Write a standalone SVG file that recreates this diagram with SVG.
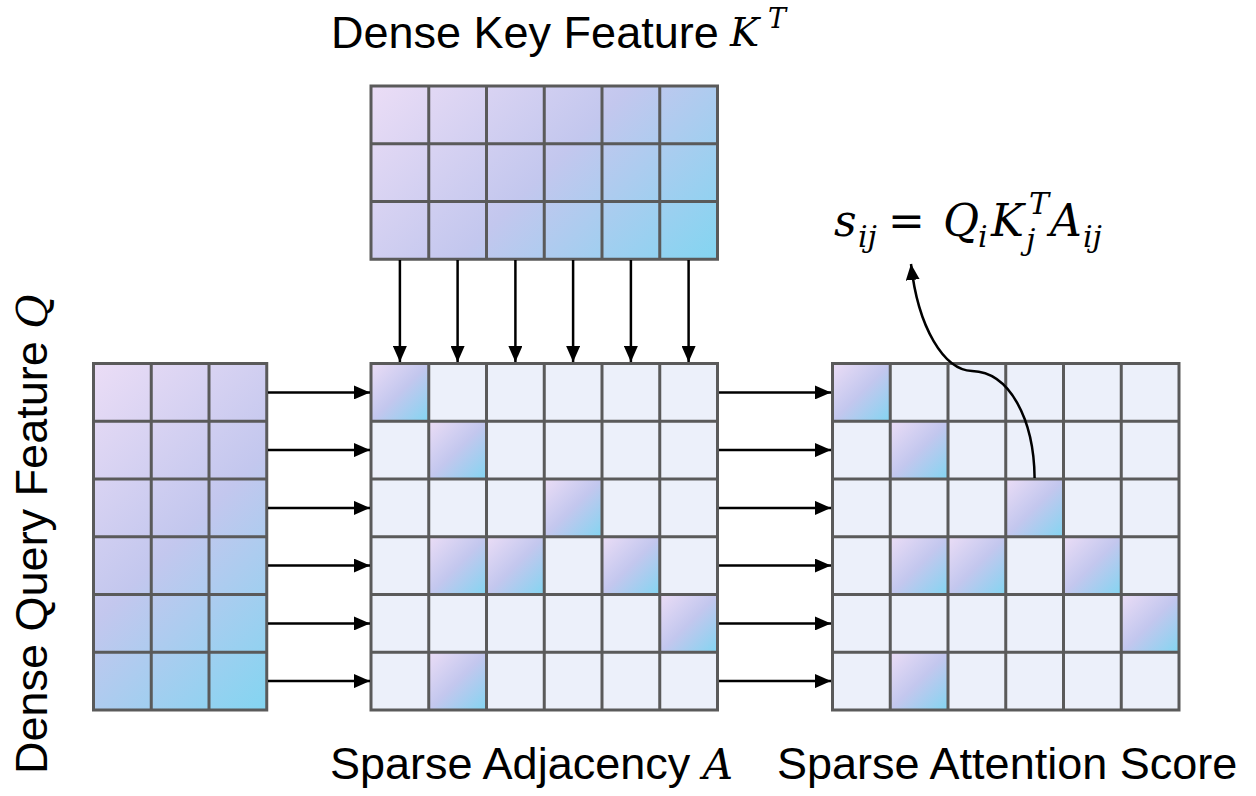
<svg xmlns="http://www.w3.org/2000/svg" width="1256" height="796" viewBox="0 0 1256 796">
  <style>
    .lbl { font-family: "Liberation Sans", Arial, sans-serif; font-size: 45px; fill: #000; }
    .math { font-family: "DejaVu Serif", "Liberation Serif", serif; font-style: italic; fill: #000; }
    .grid { fill: none; stroke: #5a5a5a; stroke-width: 3; }
    .empty { fill: #ECF0FA; }
    .hot { fill: url(#cg); }
    .arr { fill: none; stroke: #000; stroke-width: 2.5; marker-end: url(#ah); }
  </style>
  <defs>
    <linearGradient id="cg" x1="0" y1="0" x2="1" y2="1">
      <stop offset="0" stop-color="#EBDDF6"/>
      <stop offset="0.5" stop-color="#C3C7EE"/>
      <stop offset="1" stop-color="#83D5F1"/>
    </linearGradient>
    <linearGradient id="kg" href="#cg" gradientUnits="userSpaceOnUse" x1="371" y1="86" x2="630.9" y2="345.9"/>
    <linearGradient id="qg" href="#cg" gradientUnits="userSpaceOnUse" x1="93.5" y1="363.5" x2="353.4" y2="623.4"/>
    <marker id="ah" markerUnits="userSpaceOnUse" markerWidth="17" markerHeight="14" refX="16" refY="7" orient="auto">
      <path d="M0,0 L16,7 L0,14 z" fill="#000"/>
    </marker>
  </defs>
  <rect width="1256" height="796" fill="#fff"/>

  <!-- Top matrix: Dense Key Feature K^T -->
  <g id="key-matrix">
    <rect x="371" y="86" width="346.5" height="173.25" fill="url(#kg)"/>
    <path class="grid" d="M371,86 H717.5 V259.25 H371 Z M428.75,86 V259.25 M486.5,86 V259.25 M544.25,86 V259.25 M602,86 V259.25 M659.75,86 V259.25 M371,143.75 H717.5 M371,201.5 H717.5"/>
  </g>
  <g id="key-label">
    <text class="lbl" x="331" y="48">Dense Key Feature <tspan class="math" x="730" y="46" font-size="39">K</tspan><tspan class="math" x="768" y="28" font-size="27">T</tspan></text>
  </g>

  <!-- Left matrix: Dense Query Feature Q -->
  <g id="query-matrix">
    <rect x="93.5" y="363.5" width="173.25" height="346.5" fill="url(#qg)"/>
    <path class="grid" d="M93.5,363.5 H266.75 V710 H93.5 Z M151.25,363.5 V710 M209,363.5 V710 M93.5,421.25 H266.75 M93.5,479 H266.75 M93.5,536.75 H266.75 M93.5,594.5 H266.75 M93.5,652.25 H266.75"/>
  </g>
  <g id="query-label">
    <text class="lbl" transform="translate(47,774) rotate(-90)" x="0" y="0">Dense Query Feature <tspan class="math" font-size="42">Q</tspan></text>
  </g>

  <!-- Middle matrix: Sparse Adjacency A -->
  <g id="adjacency-matrix">
    <rect class="empty" x="371" y="363.5" width="346.5" height="346.5"/>
    <rect class="hot" x="371" y="363.5" width="57.75" height="57.75"/>
    <rect class="hot" x="428.75" y="421.25" width="57.75" height="57.75"/>
    <rect class="hot" x="544.25" y="479" width="57.75" height="57.75"/>
    <rect class="hot" x="428.75" y="536.75" width="57.75" height="57.75"/>
    <rect class="hot" x="486.5" y="536.75" width="57.75" height="57.75"/>
    <rect class="hot" x="602" y="536.75" width="57.75" height="57.75"/>
    <rect class="hot" x="659.75" y="594.5" width="57.75" height="57.75"/>
    <rect class="hot" x="428.75" y="652.25" width="57.75" height="57.75"/>
    <path class="grid" d="M371,363.5 H717.5 V710 H371 Z M428.75,363.5 V710 M486.5,363.5 V710 M544.25,363.5 V710 M602,363.5 V710 M659.75,363.5 V710 M371,421.25 H717.5 M371,479 H717.5 M371,536.75 H717.5 M371,594.5 H717.5 M371,652.25 H717.5"/>
  </g>
  <g id="adjacency-label">
    <text class="lbl" x="330" y="779">Sparse Adjacency <tspan class="math" font-size="42">A</tspan></text>
  </g>

  <!-- Right matrix: Sparse Attention Score -->
  <g id="score-matrix">
    <rect class="empty" x="832.5" y="363.5" width="346.5" height="346.5"/>
    <rect class="hot" x="832.5" y="363.5" width="57.75" height="57.75"/>
    <rect class="hot" x="890.25" y="421.25" width="57.75" height="57.75"/>
    <rect class="hot" x="1005.75" y="479" width="57.75" height="57.75"/>
    <rect class="hot" x="890.25" y="536.75" width="57.75" height="57.75"/>
    <rect class="hot" x="948" y="536.75" width="57.75" height="57.75"/>
    <rect class="hot" x="1063.5" y="536.75" width="57.75" height="57.75"/>
    <rect class="hot" x="1121.25" y="594.5" width="57.75" height="57.75"/>
    <rect class="hot" x="890.25" y="652.25" width="57.75" height="57.75"/>
    <path class="grid" d="M832.5,363.5 H1179 V710 H832.5 Z M890.25,363.5 V710 M948,363.5 V710 M1005.75,363.5 V710 M1063.5,363.5 V710 M1121.25,363.5 V710 M832.5,421.25 H1179 M832.5,479 H1179 M832.5,536.75 H1179 M832.5,594.5 H1179 M832.5,652.25 H1179"/>
  </g>
  <g id="score-label">
    <text class="lbl" x="777" y="779">Sparse Attention Score</text>
  </g>

  <!-- Formula -->
  <g id="formula">
    <text class="math" font-size="44"><tspan x="834" y="236">s</tspan><tspan x="858" y="247" font-size="30">ij</tspan><tspan x="888" y="236" font-style="normal">=</tspan><tspan x="943" y="236">Q</tspan><tspan x="978" y="247" font-size="30">i</tspan><tspan x="991" y="236">K</tspan><tspan x="1029" y="214" font-size="30">T</tspan><tspan x="1026" y="250" font-size="30">j</tspan><tspan x="1050" y="236">A</tspan><tspan x="1083" y="247" font-size="30">ij</tspan></text>
  </g>

  <!-- Connectors -->
  <g id="connectors">
    <path class="arr" d="M399.9,260 V362"/>
    <path class="arr" d="M457.6,260 V362"/>
    <path class="arr" d="M515.4,260 V362"/>
    <path class="arr" d="M573.1,260 V362"/>
    <path class="arr" d="M630.9,260 V362"/>
    <path class="arr" d="M688.6,260 V362"/>

    <path class="arr" d="M268,392.4 H370"/>
    <path class="arr" d="M268,450.1 H370"/>
    <path class="arr" d="M268,507.9 H370"/>
    <path class="arr" d="M268,565.6 H370"/>
    <path class="arr" d="M268,623.4 H370"/>
    <path class="arr" d="M268,681.1 H370"/>

    <path class="arr" d="M719,392.4 H831"/>
    <path class="arr" d="M719,450.1 H831"/>
    <path class="arr" d="M719,507.9 H831"/>
    <path class="arr" d="M719,565.6 H831"/>
    <path class="arr" d="M719,623.4 H831"/>
    <path class="arr" d="M719,681.1 H831"/>

    <path class="arr" d="M1034.6,478 C1034,420 1010,372 972,371 C944,370 918,328 911,264"/>
  </g>
</svg>
